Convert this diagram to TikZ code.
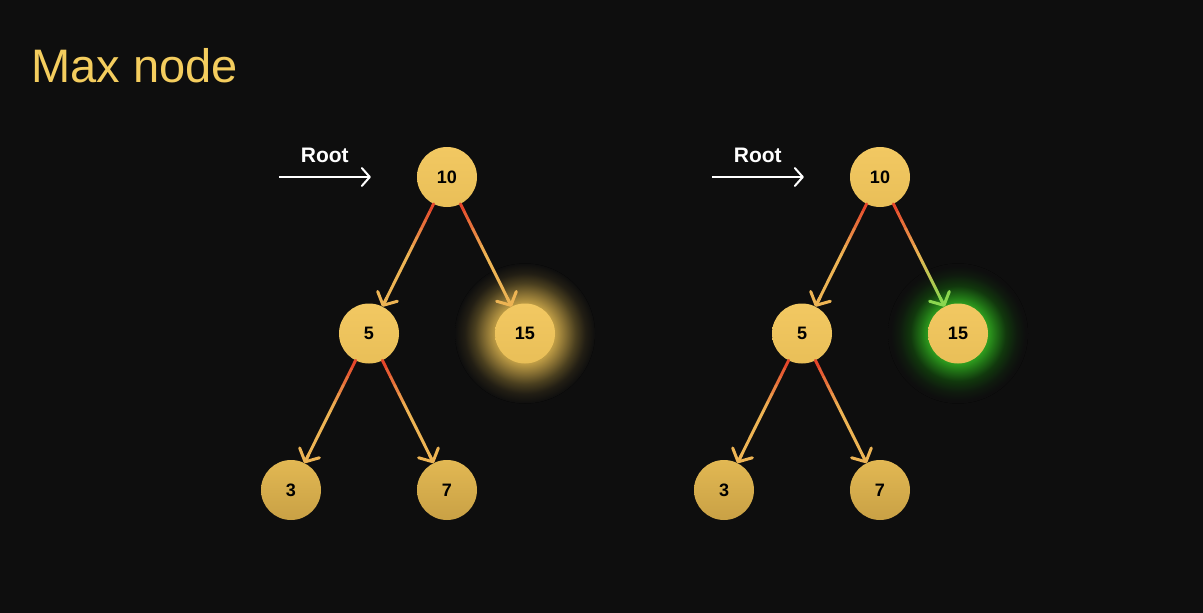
\documentclass[tikz,border=0pt]{standalone}
\usepackage{fontspec}
\setmainfont{Liberation Sans}
\usetikzlibrary{calc,positioning,arrows.meta,backgrounds}

\definecolor{bgdark}{HTML}{0E0E0E}
\definecolor{gold}{HTML}{F2C862}
\definecolor{goldlow}{HTML}{E9BF58}
\definecolor{goldmid}{HTML}{E2B853}
\definecolor{golddark}{HTML}{C9A145}
\definecolor{titlegold}{HTML}{F4CD5E}
\definecolor{edgered}{HTML}{E4472B}
\definecolor{edgegold}{HTML}{EDB454}
\definecolor{edgegreen}{HTML}{8BD64F}
\definecolor{glowgold}{HTML}{BE9C45}
\definecolor{glowgoldb}{HTML}{8A7234}
\definecolor{glowgoldc}{HTML}{4A3F1F}
\definecolor{glowgoldd}{HTML}{221E14}
\definecolor{glowgreen}{HTML}{2E9C1E}
\definecolor{glowgreenb}{HTML}{1F6E15}
\definecolor{glowgreenc}{HTML}{11380D}
\definecolor{glowgreend}{HTML}{0F1A0E}

\pgfdeclareradialshading{goldglow}{\pgfpoint{0bp}{0bp}}{color(0bp)=(glowgold); color(10.7bp)=(glowgold); color(14bp)=(glowgoldb); color(18bp)=(glowgoldc); color(21.5bp)=(glowgoldd); color(25bp)=(bgdark); color(50bp)=(bgdark)}
\pgfdeclareradialshading{greenglow}{\pgfpoint{0bp}{0bp}}{color(0bp)=(glowgreen); color(10.7bp)=(glowgreen); color(13.5bp)=(glowgreenb); color(17bp)=(glowgreenc); color(21bp)=(glowgreend); color(24bp)=(bgdark); color(50bp)=(bgdark)}

\tikzset{
  bnode/.style={circle, minimum size=60pt, inner sep=0pt, top color=gold, bottom color=goldlow,
    font=\fontsize{18pt}{20pt}\selectfont\bfseries, text=black},
  lownode/.style={top color=goldmid, bottom color=golddark},
  edgeline/.style={line width=3pt, line cap=round},
  tipv/.style={line width=3pt, -{Straight Barb[length=10pt,width=22pt,round]}},
  rootarrow/.style={white, line width=2pt, -{Straight Barb[length=8pt,width=18pt,round]}},
  rootlabel/.style={white, inner sep=0pt, font=\fontsize{21pt}{24pt}\selectfont\bfseries},
  titletext/.style={titlegold, inner sep=0pt, font=\fontsize{47pt}{54pt}\selectfont}
}

\newcommand\treeedge[3]{%
  \coordinate (es) at ($(#1)!30pt!(#2)$);
  \coordinate (ee) at ($(#2)!32pt!(#1)$);
  \foreach \k in {0,...,11}{%
    \pgfmathsetmacro\ka{\k/12}%
    \pgfmathsetmacro\kb{(\k+1)/12}%
    \ifnum\k<6
      \pgfmathtruncatemacro\kc{100-\k*200/11}%
      \draw[edgeline, edgered!\kc!edgegold] ($(es)!\ka!(ee)$) -- ($(es)!\kb!(ee)$);
    \else
      \pgfmathtruncatemacro\kc{200-\k*200/11}%
      \draw[edgeline, edgegold!\kc!#3] ($(es)!\ka!(ee)$) -- ($(es)!\kb!(ee)$);
    \fi
  }
  \draw[tipv, #3] ($(#2)!40pt!(#1)$) -- ($(#2)!30pt!(#1)$);
}

\begin{document}
\begin{tikzpicture}[x=1pt, y=-1pt]
  \useasboundingbox (0,0) rectangle (1203,613);

  \node[titletext, anchor=base west] (title) at (31,82) {Max node};

  \matrix (ltree) at (408,333.5) [row sep=96.5pt, column sep=18pt, nodes={bnode}]
  {
    & & \node (l10) {10}; & \\
    & \node (l5) {5}; & & \node (l15) {15}; \\
    \node[lownode] (l3) {3}; & & \node[lownode] (l7) {7}; & \\
  };

  \matrix (rtree) at (841,333.5) [row sep=96.5pt, column sep=18pt, nodes={bnode}]
  {
    & & \node (r10) {10}; & \\
    & \node (r5) {5}; & & \node (r15) {15}; \\
    \node[lownode] (r3) {3}; & & \node[lownode] (r7) {7}; & \\
  };

  \begin{pgfonlayer}{background}
    \fill[bgdark] (0,0) rectangle (1203,613);
    \fill[shading=goldglow] (l15) circle (70pt);
    \fill[shading=greenglow] (r15) circle (70pt);
  \end{pgfonlayer}

  \coordinate[left=46pt of l10.west] (lrootend);
  \coordinate[left=92pt of lrootend] (lrootbeg);
  \draw[rootarrow] (lrootbeg) -- (lrootend) node[rootlabel, midway, above=13pt] (lroot) {Root};

  \coordinate[left=46pt of r10.west] (rrootend);
  \coordinate[left=92pt of rrootend] (rrootbeg);
  \draw[rootarrow] (rrootbeg) -- (rrootend) node[rootlabel, midway, above=13pt] (rroot) {Root};

  \treeedge{l10}{l5}{edgegold}
  \treeedge{l10}{l15}{edgegold}
  \treeedge{l5}{l3}{edgegold}
  \treeedge{l5}{l7}{edgegold}

  \treeedge{r10}{r5}{edgegold}
  \treeedge{r10}{r15}{edgegreen}
  \treeedge{r5}{r3}{edgegold}
  \treeedge{r5}{r7}{edgegold}
\end{tikzpicture}
\end{document}
